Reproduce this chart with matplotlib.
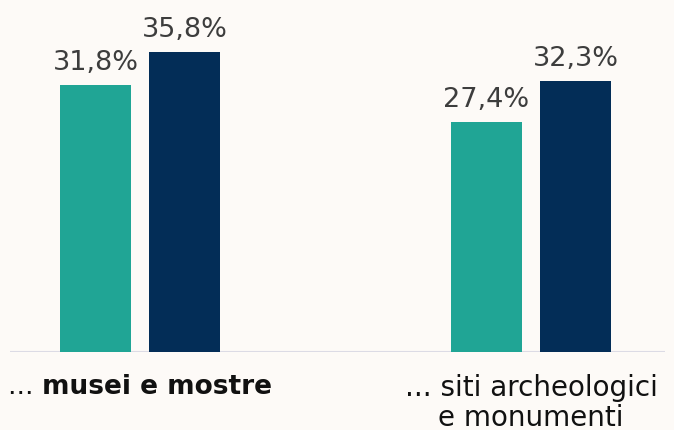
import matplotlib
matplotlib.use('Agg')

import matplotlib.pyplot as plt
import numpy as np

# data
groups = ["musei e mostre", "siti archeologici\ne monumenti"]
serie_a = [31.8, 27.4]   # teal
serie_b = [35.8, 32.3]   # navy
value_labels_a = ["31,8%", "27,4%"]
value_labels_b = ["35,8%", "32,3%"]

bg = "#fdfaf7"
teal = "#20a595"
navy = "#032d57"
txt = "#3d3d3d"

plt.rcParams['font.family'] = ['DejaVu Sans']

fig = plt.figure(figsize=(6.74, 4.31), dpi=100, facecolor=bg)
ax = fig.add_axes([10 / 674, 78 / 431, 655 / 674, 353 / 431])
ax.set_facecolor(bg)

x = np.arange(len(groups))
w = 0.1816
off = 0.1138

bars_a = ax.bar(x - off, serie_a, width=w, color=teal, zorder=3)
bars_b = ax.bar(x + off, serie_b, width=w, color=navy, zorder=3)

for bars, labels in [(bars_a, value_labels_a), (bars_b, value_labels_b)]:
    for b, lab in zip(bars, labels):
        ax.annotate(lab, (b.get_x() + b.get_width() / 2, b.get_height()),
                    xytext=(0, 7), textcoords="offset points",
                    ha="center", va="bottom", fontsize=19.5, color=txt)

ax.set_xlim(-0.3325, 1.3427)
ax.set_ylim(0, 42.07)
ax.axhline(0, color="#dcdbe5", lw=1.5, zorder=2)

for s in ax.spines.values():
    s.set_visible(False)
ax.set_xticks([])
ax.set_yticks([])

# category labels
trans = ax.get_xaxis_transform()
fig.canvas.draw()
r = fig.canvas.get_renderer()

# first group: "... " regular + bold name
t1 = ax.text(0, -0.06, "... ", transform=trans, ha="left", va="top",
             fontsize=19, color="#111111")
t2 = ax.text(0, -0.06, groups[0], transform=trans, ha="left", va="top",
             fontsize=19, color="#111111", fontweight="bold")
w1 = t1.get_window_extent(r).width
w2 = t2.get_window_extent(r).width
cx = ax.transData.transform((x[0], 0))[0]
left = cx - (w1 + w2) / 2
inv = ax.transData.inverted()
t1.set_x(inv.transform((left, 0))[0])
t2.set_x(inv.transform((left + w1, 0))[0])

ax.text(x[1], -0.06, "... " + groups[1], transform=trans, ha="center",
        va="top", fontsize=20, color="#111111", linespacing=1.1,
        multialignment="center")

fig.savefig("out.png", dpi=100, facecolor=bg)
